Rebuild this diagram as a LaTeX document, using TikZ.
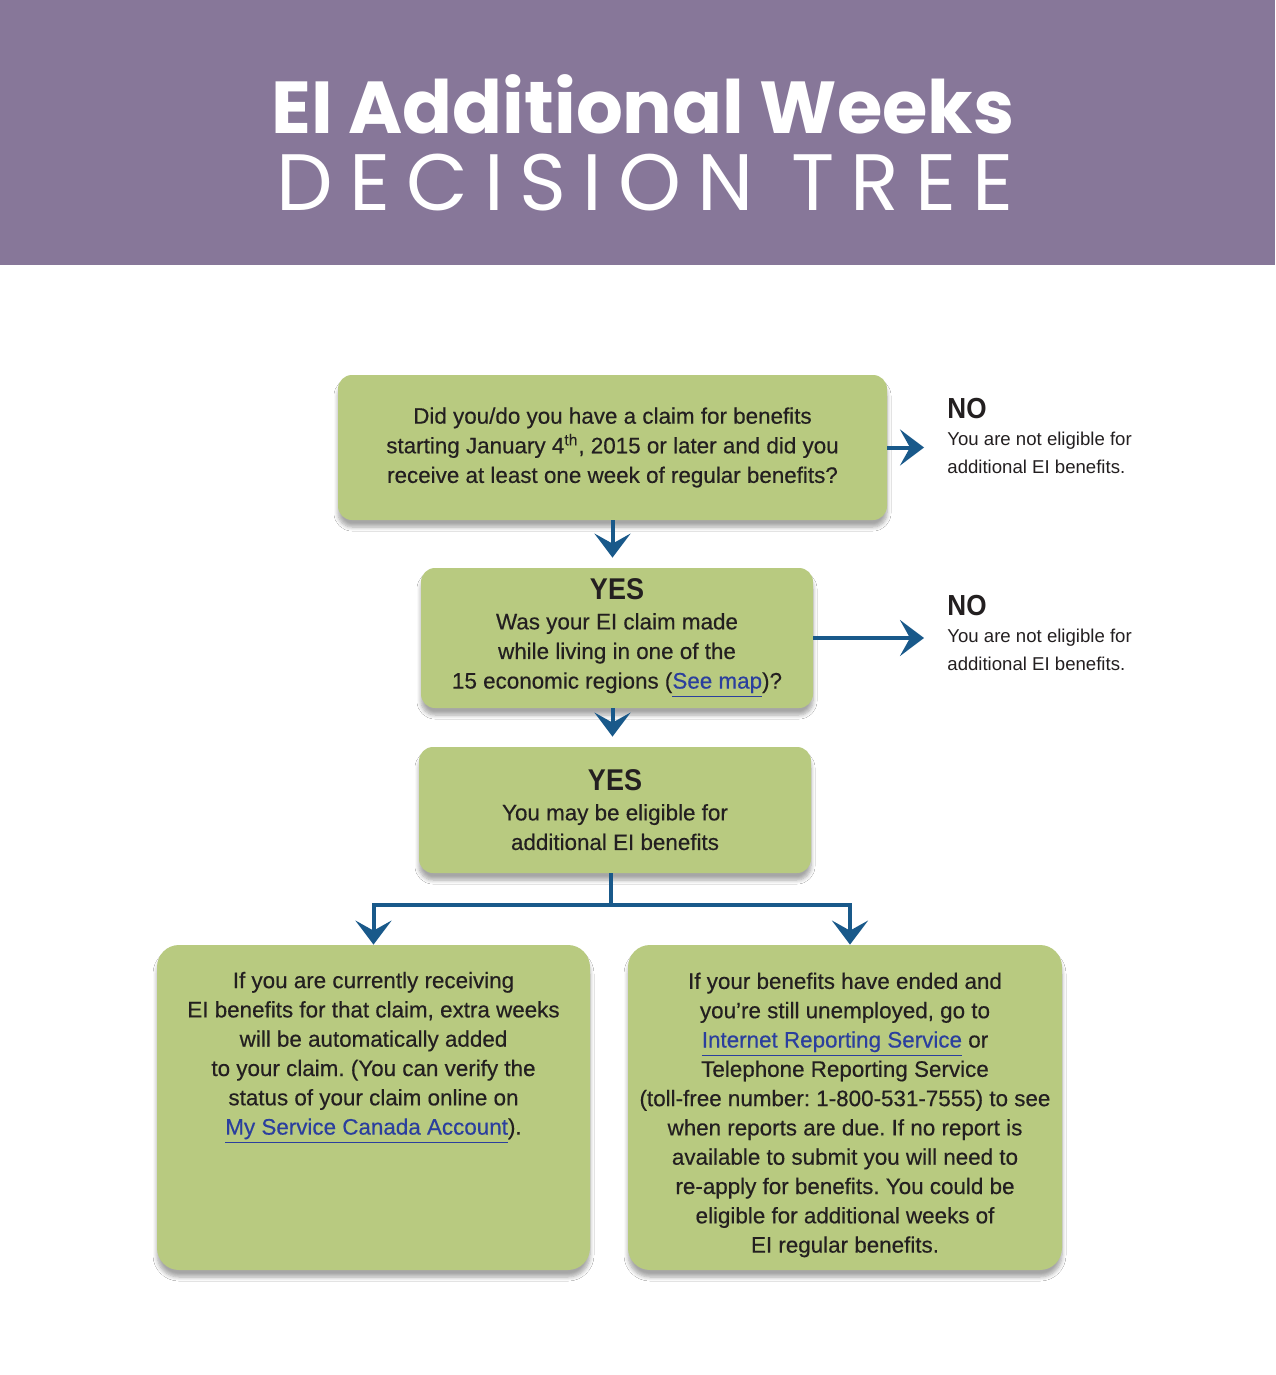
\documentclass[tikz,border=0pt]{standalone}
\usepackage{fontspec}
\setmainfont{Liberation Sans}[FakeBold=0.4]
\newfontfamily\plainfont{Liberation Sans}
\newfontfamily\headfont{Poppins}
\newfontfamily\narrowbold{Liberation Sans Bold}[FakeStretch=0.9]
\usetikzlibrary{arrows.meta, shadows.blur, positioning}
\frenchspacing

\definecolor{headpurple}{HTML}{877799}
\definecolor{boxgreen}{HTML}{B8CA80}
\definecolor{flowblue}{HTML}{19598A}
\definecolor{inkdark}{HTML}{231F20}
\definecolor{linkblue}{HTML}{2B3F9E}
\newcommand{\weblink}[1]{\textcolor{linkblue}{\underline{#1}}}

\begin{document}
\begin{tikzpicture}[x=0.5pt, y=-0.5pt,
        greenbox/.style={fill=boxgreen, rounded corners=7pt, align=center, text=inkdark,
                font=\fontsize{11.2}{14.8}\selectfont, inner sep=0pt,
                blur shadow={shadow xshift=0pt, shadow yshift=-3.5pt, shadow blur radius=2pt,
                        shadow blur steps=6, shadow opacity=35}},
        bigbox/.style={greenbox, rounded corners=11pt},
        boxtext/.style={align=center, text=inkdark, font=\fontsize{11.2}{14.65}\selectfont, inner sep=0pt},
        notext/.style={align=left, text=inkdark, font=\plainfont\fontsize{9.3}{13.75}\selectfont, inner sep=0pt},
        headtext/.style={text=white, inner sep=0pt},
        flow/.style={draw=flowblue, line width=2pt, -{Stealth[length=12pt, width=18pt, inset=5pt]}},
        trunk/.style={draw=flowblue, line width=2pt}]

        \useasboundingbox (0,0) rectangle (1275,1375);
        \fill[white] (0,0) rectangle (1275,1375);

        % Header

        \fill[headpurple] (0,0) rectangle (1275,265);

        \node (title) at (643,104) [headtext, font=\headfont\bfseries\fontsize{36.8}{36.8}\selectfont] {EI Additional Weeks};

        \node (subtitle) at (645,183) [headtext, font=\headfont\fontsize{40}{40}\selectfont] {\addfontfeatures{LetterSpace=20}DECISION TREE};

        % Define nodes (boxes)

        \node (claim) at (612.5,447.5) [greenbox, minimum width=274.5pt, minimum height=72.5pt]
                {Did you/do you have a claim for benefits\\
                 starting January 4\textsuperscript{th}, 2015 or later and did you\\
                 receive at least one week of regular benefits?};

        \node (region) at (617,638) [greenbox, minimum width=196pt, minimum height=70pt]
                {{\narrowbold\fontsize{15}{15}\selectfont YES}\\
                 Was your EI claim made\\
                 while living in one of the\\
                 15 economic regions (\weblink{See map})?};

        \node (eligible) at (615,810) [greenbox, minimum width=196pt, minimum height=63pt]
                {{\narrowbold\fontsize{15}{15}\selectfont YES}\\
                 You may be eligible for\\
                 additional EI benefits};

        \node (current) at (373.5,1107.5) [bigbox, minimum width=216.5pt, minimum height=162.5pt] {};

        \node (ended) at (845,1107.5) [bigbox, minimum width=217pt, minimum height=162.5pt] {};

        \node (currenttxt) at ([yshift=-95pt]current.north) [boxtext, anchor=base]
                {If you are currently receiving\\
                 EI benefits for that claim, extra weeks\\
                 will be automatically added\\
                 to your claim. (You can verify the\\
                 status of your claim online on\\
                 \weblink{My Service Canada Account}).};

        \node (endedtxt) at ([yshift=-154pt]ended.north) [boxtext, anchor=base]
                {If your benefits have ended and\\
                 you’re still unemployed, go to\\
                 \weblink{Internet Reporting Service} or\\
                 Telephone Reporting Service\\
                 (toll-free number: 1-800-531-7555) to see\\
                 when reports are due. If no report is\\
                 available to submit you will need to\\
                 re-apply for benefits. You could be\\
                 eligible for additional weeks of\\
                 EI regular benefits.};

        % the two NO answers

        \node (no1) at (947,473) [notext, anchor=base west]
                {{\narrowbold\fontsize{14.5}{14.5}\selectfont NO}\\
                 You are not eligible for\\
                 additional EI benefits.};

        \node (no2) at (947,670) [notext, anchor=base west]
                {{\narrowbold\fontsize{14.5}{14.5}\selectfont NO}\\
                 You are not eligible for\\
                 additional EI benefits.};

        \coordinate (split) at (611,905);

        % Draw arrows between nodes

        \draw[flow, shorten >=11.5pt] (claim.east) -- (claim.east -| no1.west);

        \draw[flow, shorten >=11.5pt] (region.east) -- (region.east -| no2.west);

        \draw[flow, shorten >=5pt] (claim.south) -- (claim.south |- region.north);

        \draw[flow, shorten >=5pt] (claim.south |- region.south) -- (claim.south |- eligible.north);

        \draw[trunk] (split |- eligible.south) -- (split);

        \draw[flow] (split) -| (current.north);

        \draw[flow] (split) -| ([xshift=2.5pt]ended.north);

\end{tikzpicture}
\end{document}
